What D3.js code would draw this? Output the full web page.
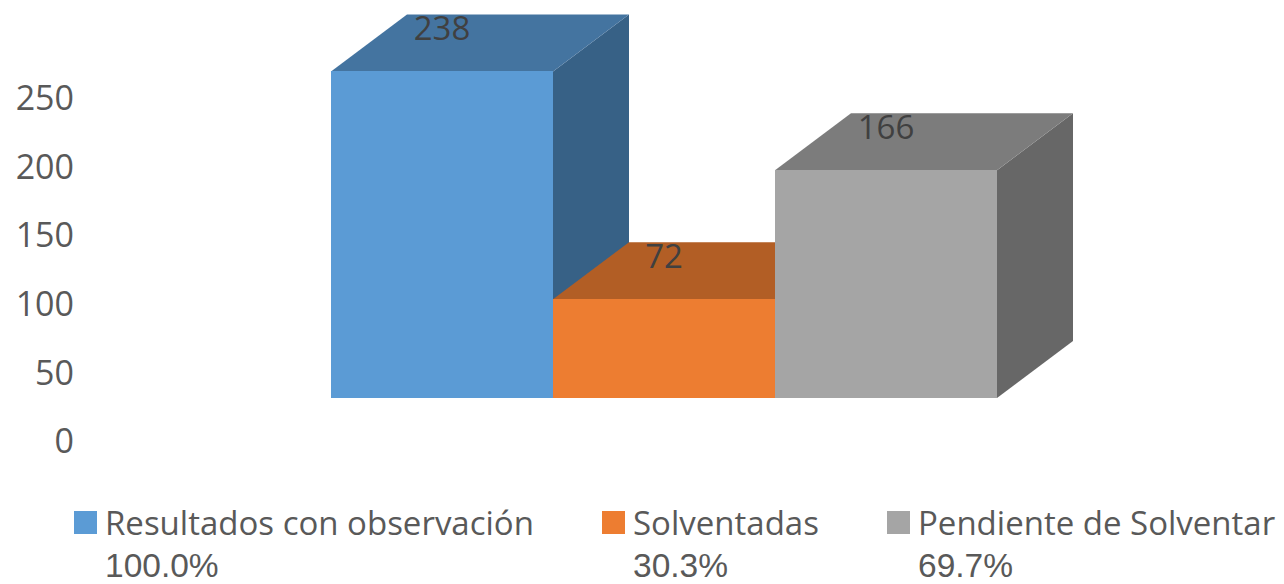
<!DOCTYPE html>
<html><head><meta charset="utf-8">
<script src="https://cdn.jsdelivr.net/npm/d3@7"></script>
<style>html,body{margin:0;background:#fff}svg{display:block}text{font-family:"Open Sans","Noto Sans",sans-serif;fill:#595959}text.pct{font-family:"Liberation Sans",sans-serif}</style>
</head><body><svg id="c" width="1284" height="584"></svg>
<script>
const categories=["Resultados con observación","Solventadas","Pendiente de Solventar"];
const percents=["100.0%","30.3%","69.7%"];
const values=[238,72,166];
const front=["#5b9bd5","#ed7d31","#a5a5a5"];
const topC=["#4474a0","#b25e25","#7c7c7c"];
const sideC=["#376186","#944e1f","#676767"];
const ticks=[0,50,100,150,200,250];
const svg=d3.select("#c");
const y=d3.scaleLinear().domain([0,250]).range([441,98]);
const baseY=398, depthX=76, depthY=57;
const x=d3.scaleBand().domain(categories).range([331,997]).padding(0);
const h=v=>(y(0)-y(v));
svg.selectAll("text.t").data(ticks).join("text").attr("class","t")
 .attr("x",74).attr("y",d=>y(d)).attr("dy","0.36em").attr("text-anchor","end")
 .attr("font-size",34).text(d=>d);
const tops=categories.map((c,i)=>({c,i,v:values[i],top:baseY-h(values[i])}));
const line=d3.line();
const clipTop=14;
[0,1,2].forEach(i=>{
 const d=tops[i],x0=x(d.c),x1=x0+x.bandwidth();
 const cy=p=>Math.max(p,clipTop);
 const dx=depthX, dy=depthY;
 svg.append("path").attr("fill",sideC[i]).attr("d",line([[x1,d.top],[x1+dx,cy(d.top-dy)],[x1+dx,baseY-dy],[x1,baseY]])+"Z");
 svg.append("path").attr("fill",topC[i]).attr("d",line([[x0,d.top],[x0+dx,cy(d.top-dy)],[x1+dx,cy(d.top-dy)],[x1,d.top]])+"Z");
 svg.append("rect").attr("x",x0).attr("y",d.top).attr("width",x.bandwidth()).attr("height",baseY-d.top).attr("fill",front[i]).attr("shape-rendering","crispEdges");
});
tops.forEach(d=>{
 svg.append("text").attr("x",x(d.c)+x.bandwidth()/2).attr("y",d.top-43.5).attr("dy","0.36em")
  .attr("text-anchor","middle").attr("font-size",33).style("fill","#404040").text(d.v);
});
const lx=[74,602,887];
categories.forEach((c,i)=>{
 svg.append("rect").attr("x",lx[i]).attr("y",511).attr("width",23).attr("height",23).attr("fill",front[i]);
 svg.append("text").attr("x",lx[i]+31).attr("y",535).attr("font-size",33).text(c);
 svg.append("text").attr("class","pct").attr("x",lx[i]+31).attr("y",577).attr("font-size",33.5).text(percents[i]);
});
</script></body></html>
